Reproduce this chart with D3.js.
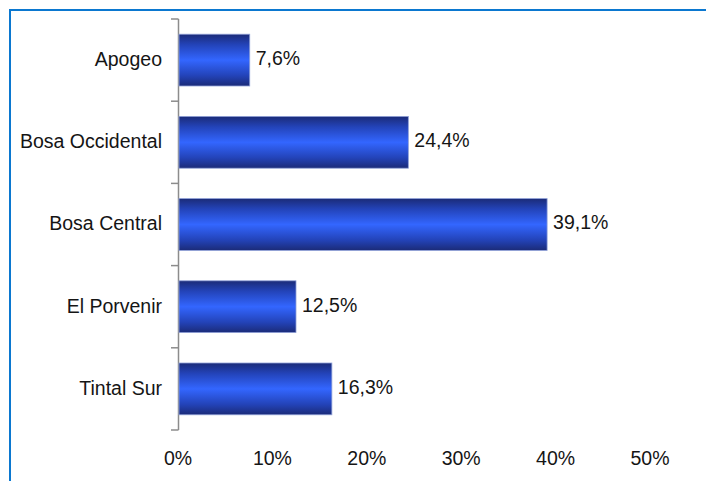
<!DOCTYPE html>
<html><head><meta charset="utf-8">
<script src="https://cdn.jsdelivr.net/npm/d3@7"></script>
<style>
html,body{margin:0;padding:0;background:#fff;}
svg{display:block;font-family:"Liberation Sans",Arial,sans-serif;}
</style></head>
<body>
<script>
const categories = ["Apogeo","Bosa Occidental","Bosa Central","El Porvenir","Tintal Sur"];
const values = [7.6, 24.4, 39.1, 12.5, 16.3];
const valueLabels = ["7,6%","24,4%","39,1%","12,5%","16,3%"];
const xTicks = [0,10,20,30,40,50];

const W=706,H=481;
const FS=19.5;
const svg=d3.select("body").append("svg").attr("width",W).attr("height",H);

// frame
svg.append("rect").attr("x",10).attr("y",10).attr("width",W).attr("height",H)
  .attr("fill","none").attr("stroke","#0b78d0").attr("stroke-width",2);

const defs=svg.append("defs");
const g=defs.append("linearGradient").attr("id","bg").attr("x1",0).attr("y1",0).attr("x2",0).attr("y2",1);
g.append("stop").attr("offset","0%").attr("stop-color","#1b2b78");
g.append("stop").attr("offset","20%").attr("stop-color","#2343b8");
g.append("stop").attr("offset","50%").attr("stop-color","#3366ff");
g.append("stop").attr("offset","80%").attr("stop-color","#2343b8");
g.append("stop").attr("offset","100%").attr("stop-color","#1b2b78");

const x=d3.scaleLinear().domain([0,50]).range([178,650]);
const y=d3.scaleBand().domain(categories).range([19,430]).paddingInner(0.37).paddingOuter(0.185);

// y axis line and boundary ticks
const axisG=svg.append("g");
axisG.append("line").attr("x1",178.5).attr("x2",178.5).attr("y1",19).attr("y2",430)
  .attr("stroke","#8c8c8c").attr("stroke-width",1.5);
d3.range(categories.length+1).forEach(i=>{
  const yy=19+i*(411/categories.length);
  axisG.append("line").attr("x1",171).attr("x2",178.5).attr("y1",yy).attr("y2",yy)
    .attr("stroke","#8c8c8c").attr("stroke-width",1.5);
});

// bars
svg.selectAll("rect.bar").data(categories).enter().append("rect")
  .attr("class","bar")
  .attr("x",x(0)+1).attr("y",d=>y(d))
  .attr("width",(d,i)=>x(values[i])-x(0)-1).attr("height",y.bandwidth())
  .attr("fill","url(#bg)").attr("stroke","#8fa0d8").attr("stroke-width",0.8);

// category labels
svg.selectAll("text.cat").data(categories).enter().append("text")
  .attr("x",162).attr("y",d=>y(d)+y.bandwidth()/2-1).attr("dy","0.35em")
  .attr("text-anchor","end").attr("font-size",FS).attr("fill","#151515")
  .text(d=>d);

// value labels
svg.selectAll("text.val").data(categories).enter().append("text")
  .attr("x",(d,i)=>x(values[i])+6).attr("y",d=>y(d)+y.bandwidth()/2-2).attr("dy","0.35em")
  .attr("font-size",FS).attr("fill","#151515")
  .text((d,i)=>valueLabels[i]);

// x tick labels
svg.selectAll("text.xt").data(xTicks).enter().append("text")
  .attr("x",d=>x(d)).attr("y",465).attr("text-anchor","middle")
  .attr("font-size",FS).attr("fill","#151515")
  .text(d=>d+"%");
</script>
</body></html>
